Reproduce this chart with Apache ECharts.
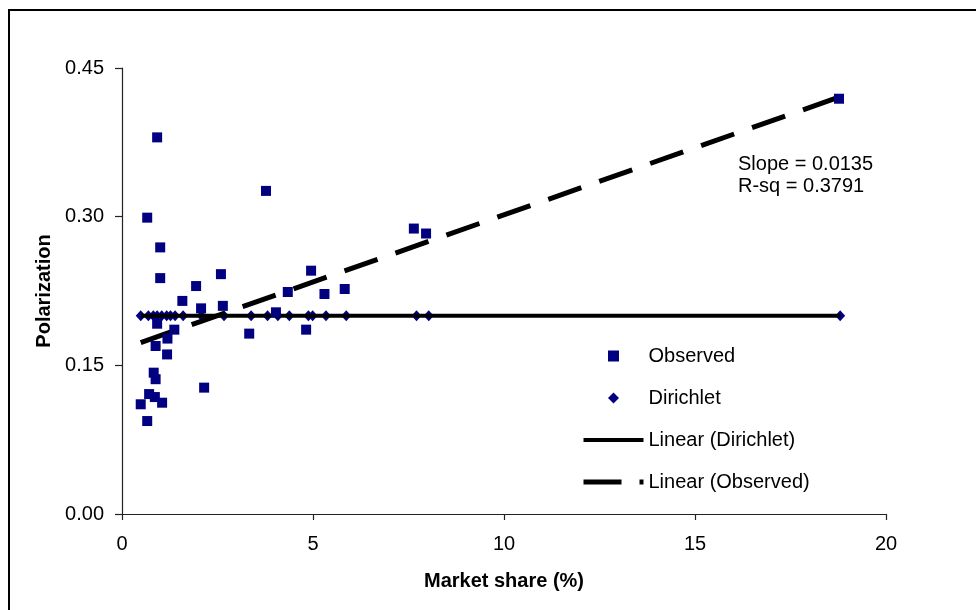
<!DOCTYPE html>
<html>
<head>
<meta charset="utf-8">
<script src="https://cdn.jsdelivr.net/npm/echarts@6/dist/echarts.min.js"></script>
<style>
  html, body { margin: 0; padding: 0; background: #fff; }
  #chart { width: 976px; height: 610px; }
</style>
</head>
<body>
<div id="chart"></div>
<script>
// observed polarization per brand
const obsX = [18.77, 0.92, 0.66, 3.77, 1.0, 1.0, 7.64, 7.96, 2.59, 1.94, 1.58, 4.95, 4.34, 5.3, 5.83,
  2.07, 2.64, 4.03, 0.92, 1.37, 3.33, 4.82, 1.19, 0.88, 1.18, 0.83, 0.88, 2.15, 0.71, 0.86, 1.05, 0.49, 0.66];
const obsY = [0.419, 0.380, 0.299, 0.326, 0.269, 0.238, 0.288, 0.283, 0.242, 0.230, 0.215, 0.2455, 0.224, 0.222, 0.227,
  0.2075, 0.21, 0.2035, 0.192, 0.186, 0.182, 0.186, 0.177, 0.1695, 0.161, 0.1426, 0.136, 0.1275, 0.121, 0.118, 0.1123, 0.1107, 0.0938];

// Dirichlet prediction
const dirX = [0.49, 0.69, 0.82, 0.92, 1.04, 1.17, 1.27, 1.39, 1.60, 2.08, 2.67, 3.38, 3.81, 4.08, 4.38,
  4.88, 4.99, 5.34, 5.87, 7.71, 8.03, 18.8];
const dirY = [0.2, 0.2, 0.2, 0.2, 0.2, 0.2, 0.2, 0.2, 0.2, 0.2, 0.2, 0.2, 0.2, 0.2, 0.2,
  0.2, 0.2, 0.2, 0.2, 0.2, 0.2, 0.2];

// trend lines (end points)
const trendX = [0.49, 18.8];
const linDirY = [0.2, 0.2];
const linObsY = [0.173, 0.421];

const xTicks = [0, 5, 10, 15, 20];
const yTicks = [0, 0.15, 0.30, 0.45];

const font = 'Arial, "Liberation Sans", sans-serif';
const navy = '#000080';

function pairs(xs, ys) {
  return xs.map((x, i) => [x, ys[i]]);
}

const chart = echarts.init(document.getElementById('chart'));

const option = {
  animation: false,
  backgroundColor: '#fff',
  textStyle: { fontFamily: font },
  grid: { left: 122, top: 68, width: 764, height: 446 },
  xAxis: {
    type: 'value',
    min: xTicks[0],
    max: xTicks[xTicks.length - 1],
    interval: 5,
    name: 'Market share (%)',
    nameLocation: 'middle',
    nameGap: 57,
    nameTextStyle: { fontSize: 20, fontWeight: 'bold', color: '#000', fontFamily: font },
    axisLine: { lineStyle: { color: '#222', width: 1.2 } },
    axisTick: { inside: false, length: 6, lineStyle: { color: '#222', width: 1.2 } },
    axisLabel: { fontSize: 20, color: '#000', margin: 20, fontFamily: font },
    splitLine: { show: false }
  },
  yAxis: {
    type: 'value',
    min: yTicks[0],
    max: yTicks[yTicks.length - 1],
    interval: 0.15,
    name: 'Polarization',
    nameLocation: 'middle',
    nameGap: 68,
    nameTextStyle: { fontSize: 20, fontWeight: 'bold', color: '#000', fontFamily: font },
    axisLine: { show: true, lineStyle: { color: '#222', width: 1.2 } },
    axisTick: { show: true, inside: false, length: 7, lineStyle: { color: '#222', width: 1.2 } },
    axisLabel: {
      fontSize: 20, color: '#000', margin: 18, fontFamily: font,
      formatter: v => v.toFixed(2)
    },
    splitLine: { show: false }
  },
  legend: {
    orient: 'vertical',
    left: 581,
    top: 346,
    padding: 0,
    itemWidth: 60,
    itemHeight: 11,
    itemGap: 22,
    symbolKeepAspect: true,
    textStyle: { fontSize: 20, color: '#000', lineHeight: 20, fontFamily: font },
    data: [
      { name: 'Observed', icon: 'path://M0,0h11v11h-11z' },
      { name: 'Dirichlet', icon: 'path://M5.5,0L11,5.5L5.5,11L0,5.5z' },
      { name: 'Linear (Dirichlet)', itemStyle: { opacity: 0 }, lineStyle: { width: 4, color: '#000' } },
      { name: 'Linear (Observed)', itemStyle: { opacity: 0 }, lineStyle: { width: 5, color: '#000', type: [38, 18] } }
    ]
  },
  graphic: [
    {
      type: 'rect',
      shape: { x: 9, y: 10, width: 1000, height: 700 },
      style: { fill: 'none', stroke: '#000', lineWidth: 2 },
      silent: true
    },
    {
      type: 'text', left: 738, top: 154,
      style: { text: 'Slope = 0.0135', fill: '#000', font: '20px ' + font }
    },
    {
      type: 'text', left: 738, top: 176,
      style: { text: 'R-sq = 0.3791', fill: '#000', font: '20px ' + font }
    }
  ],
  series: [
    {
      name: 'Linear (Dirichlet)',
      type: 'line',
      data: pairs(trendX, linDirY),
      symbol: 'none',
      itemStyle: { color: '#000' },
      lineStyle: { color: '#000', width: 4 },
      z: 3
    },
    {
      name: 'Linear (Observed)',
      type: 'line',
      data: pairs(trendX, linObsY),
      symbol: 'none',
      itemStyle: { color: '#000' },
      lineStyle: { color: '#000', width: 5, type: [35, 19] },
      z: 3
    },
    {
      name: 'Dirichlet',
      type: 'scatter',
      data: pairs(dirX, dirY),
      symbol: 'diamond',
      symbolSize: [10, 11],
      itemStyle: { color: navy, opacity: 1 },
      z: 2
    },
    {
      name: 'Observed',
      type: 'scatter',
      data: pairs(obsX, obsY),
      symbol: 'rect',
      symbolSize: 10,
      itemStyle: { color: navy, opacity: 1 },
      z: 4
    }
  ]
};

chart.setOption(option);
</script>
</body>
</html>
